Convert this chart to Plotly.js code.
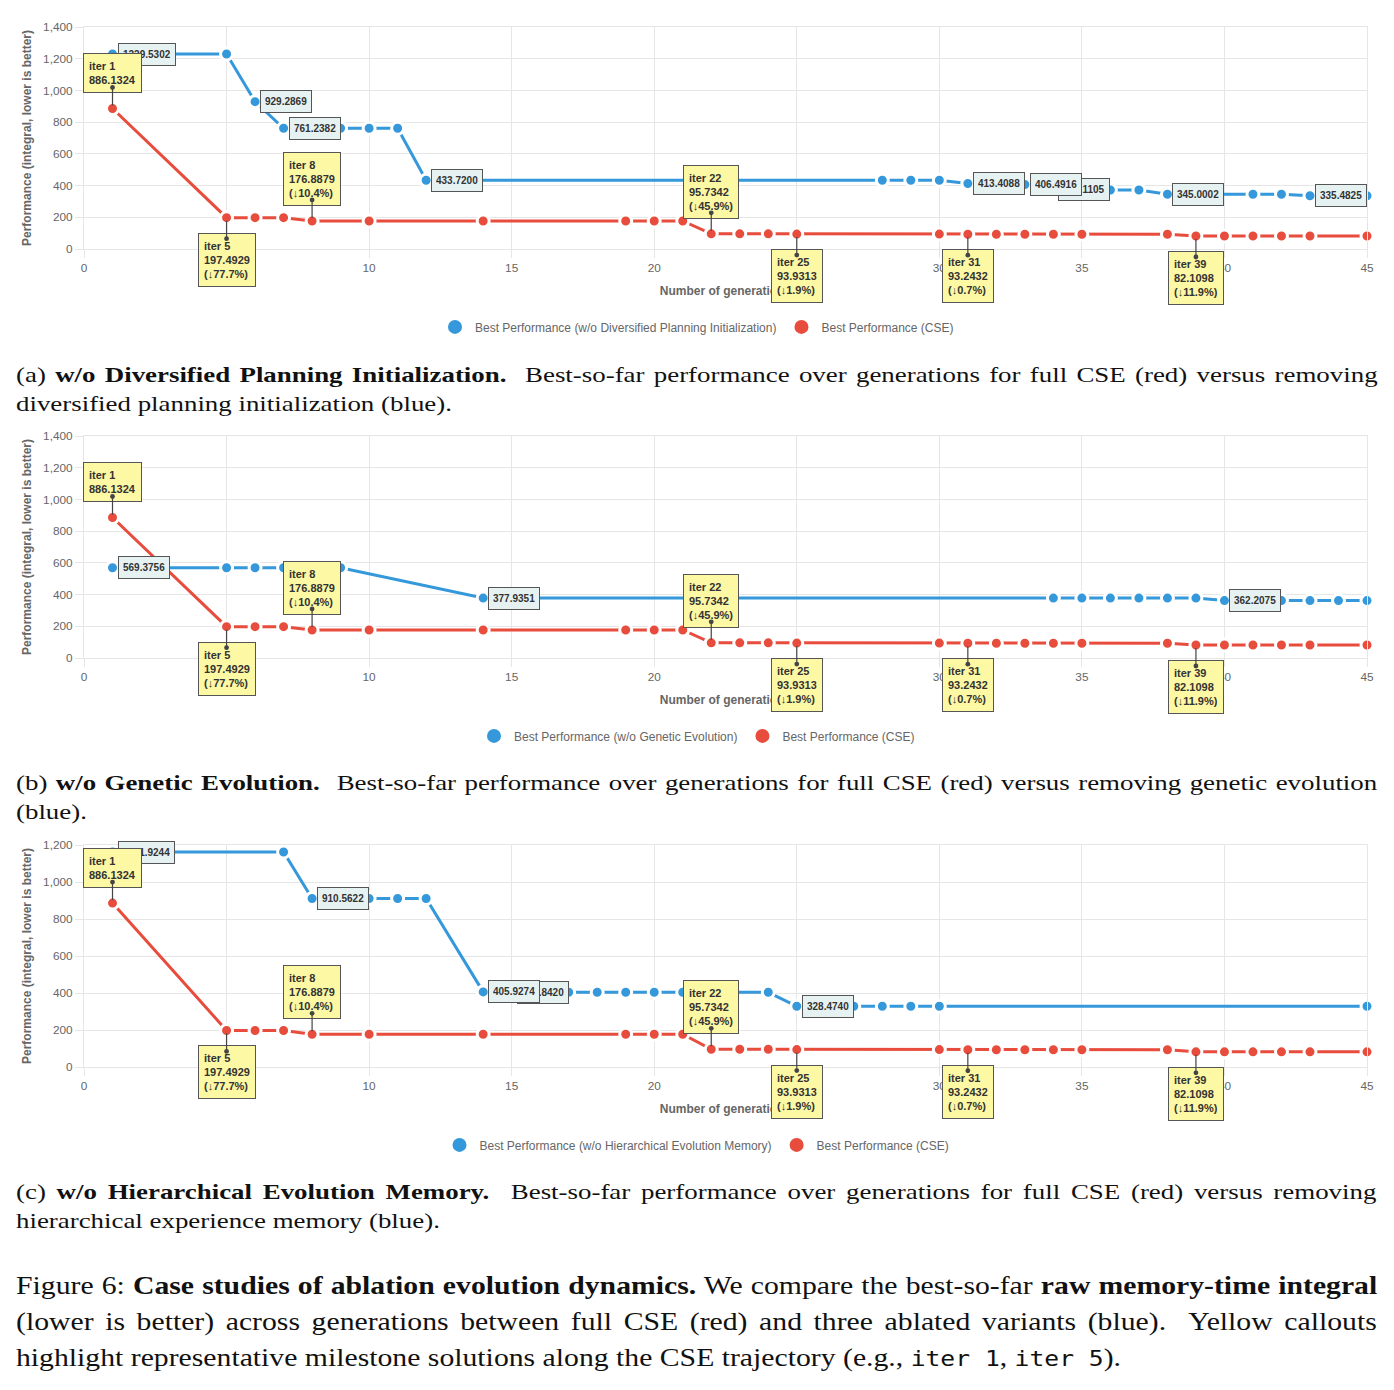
<!DOCTYPE html>
<html>
<head>
<meta charset="utf-8">
<script src="https://cdn.plot.ly/plotly-3.0.1.min.js"></script>
<style>
  html, body { margin: 0; padding: 0; background: #fff; }
  body { width: 1394px; height: 1390px; position: relative; overflow: hidden; }
  .chart { position: absolute; left: 0; width: 1394px; height: 345px; }
  .cap { position: absolute; left: 16px; font-family: "Liberation Serif", "Times New Roman", serif; color: #111; z-index: 5; }
  .cap .ln { display: block; white-space: nowrap; transform-origin: 0 0; }
  .cap .j { width: max-content; }
  .sub { font-size: 21px; line-height: 29px; }
  .sub .ln { transform: scaleX(1.28); }
  .fig { font-size: 24.5px; line-height: 36px; }
  .fig .ln { transform: scaleX(1.213); }
  .mono { font-family: "DejaVu Sans Mono", "Liberation Mono", monospace; font-size: 0.83em; }
</style>
</head>
<body>
<div id="chartA" class="chart" style="top:0px"></div>
<div id="chartB" class="chart" style="top:409px"></div>
<div id="chartC" class="chart" style="top:818px"></div>

<div class="cap sub" style="top:361px">
  <div class="ln j">(a) <b>w/o Diversified Planning Initialization.</b>&nbsp; Best-so-far performance over generations for full CSE (red) versus removing</div>
  <div class="ln">diversified planning initialization (blue).</div>
</div>
<div class="cap sub" style="top:769px">
  <div class="ln j">(b) <b>w/o Genetic Evolution.</b>&nbsp; Best-so-far performance over generations for full CSE (red) versus removing genetic evolution</div>
  <div class="ln">(blue).</div>
</div>
<div class="cap sub" style="top:1178px">
  <div class="ln j">(c) <b>w/o Hierarchical Evolution Memory.</b>&nbsp; Best-so-far performance over generations for full CSE (red) versus removing</div>
  <div class="ln">hierarchical experience memory (blue).</div>
</div>
<div class="cap fig" style="top:1268px">
  <div class="ln j">Figure 6: <b>Case studies of ablation evolution dynamics.</b> We compare the best-so-far <b>raw memory-time integral</b></div>
  <div class="ln j">(lower is better) across generations between full CSE (red) and three ablated variants (blue).&nbsp; Yellow callouts</div>
  <div class="ln">highlight representative milestone solutions along the CSE trajectory (e.g., <span class="mono">iter 1</span>, <span class="mono">iter 5</span>).</div>
</div>

<script>
// Full CSE best-so-far trajectory (shared by all three ablation panels)
const cseGen  = [1, 5, 6, 7, 8, 10, 14, 19, 20, 21, 22, 23, 24, 25, 30, 31, 32, 33, 34, 35, 38, 39, 40, 41, 42, 43, 45];
const csePerf = [886.1324, 197.4929, 197.4929, 197.4929, 176.8879, 176.8879, 176.8879, 176.8879, 176.8879, 176.8879,
                 95.7342, 95.7342, 95.7342, 93.9313, 93.9313, 93.2432, 93.2432, 93.2432, 93.2432, 93.2432, 93.2432,
                 82.1098, 82.1098, 82.1098, 82.1098, 82.1098, 82.1098];

// Milestone generations highlighted with callouts on the CSE curve
const milestoneGen = [1, 5, 8, 22, 25, 31, 39];

// (a) without diversified planning initialization
const noDpiGen  = [1, 5, 6, 7, 8, 9, 10, 11, 12, 28, 29, 30, 31, 32, 33, 34, 35, 36, 37, 38, 41, 42, 43, 45];
const noDpiPerf = [1229.5302, 1229.5302, 929.2869, 761.2382, 761.2382, 761.2382, 761.2382, 761.2382,
                   433.7200, 433.7200, 433.7200, 433.7200, 413.4088, 413.4088, 406.4916,
                   372.1105, 372.1105, 372.1105, 372.1105, 345.0002, 345.0002, 345.0002, 335.4825, 335.4825];

// (b) without genetic evolution
const noGeGen  = [1, 5, 6, 7, 8, 9, 14, 34, 35, 36, 37, 38, 39, 40, 41, 42, 43, 44, 45];
const noGePerf = [569.3756, 569.3756, 569.3756, 569.3756, 569.3756, 569.3756,
                  377.9351, 377.9351, 377.9351, 377.9351, 377.9351, 377.9351, 377.9351,
                  362.2075, 362.2075, 362.2075, 362.2075, 362.2075, 362.2075];

// (c) without hierarchical evolution memory
const noHemGen  = [1, 7, 8, 9, 10, 11, 12, 14, 15, 16, 17, 18, 19, 20, 21, 24, 25, 26, 27, 28, 29, 30, 45];
const noHemPerf = [1161.9244, 1161.9244, 910.5622, 910.5622, 910.5622, 910.5622, 910.5622, 405.9274,
                   403.8420, 403.8420, 403.8420, 403.8420, 403.8420, 403.8420, 403.8420, 403.8420,
                   328.4740, 328.4740, 328.4740, 328.4740, 328.4740, 328.4740, 328.4740];

const BLUE = '#3498db';
const RED = '#e74c3c';
const SANS = '"Liberation Sans", Arial, Helvetica, sans-serif';
const GRID = '#e6e6e6';

// which side of the curve each milestone box sits on
const calloutAbove = [true, false, true, true, false, false, false];

function perfAt(gen) { return csePerf[cseGen.indexOf(gen)]; }

function calloutText(i) {
  const g = milestoneGen[i];
  const v = perfAt(g);
  let t = '<b>iter ' + g + '<br>' + v.toFixed(4);
  if (i > 0) {
    const prev = perfAt(milestoneGen[i - 1]);
    t += '<br>(\u2193' + ((prev - v) / prev * 100).toFixed(1) + '%)';
  }
  return t + '</b>';
}

function valueLabels(gen, perf) {
  const out = [];
  perf.forEach((v, i) => {
    if (i === 0 || v !== perf[i - 1]) {
      out.push({
        x: gen[i], y: v, xref: 'x', yref: 'y',
        text: '<b>' + v.toFixed(4) + '</b>',
        showarrow: false, xanchor: 'left', yanchor: 'middle', xshift: 5,
        bgcolor: '#e6f2f2', bordercolor: '#555', borderwidth: 1, borderpad: 4, height: 13,
        font: { family: SANS, size: 10, color: '#333' }
      });
    }
  });
  return out.reverse();
}

function calloutAnnotations() {
  const anns = [];
  milestoneGen.forEach((g, i) => {
    const v = perfAt(g);
    const up = calloutAbove[i];
    anns.push({
      x: g, y: v, xref: 'x', yref: 'y', text: calloutText(i),
      showarrow: false, xanchor: 'center', yanchor: up ? 'bottom' : 'top', yshift: up ? 15 : -15,
      align: 'left', valign: 'middle',
      bgcolor: '#fdf8a3', bordercolor: '#555', borderwidth: 1, borderpad: 5,
      height: i === 0 ? 28 : 42,
      font: { family: SANS, size: 11, color: '#333' }
    });
    anns.push({
      x: g, y: v, xref: 'x', yref: 'y', text: '',
      showarrow: true, ax: 0, ay: up ? -21 : 21,
      arrowcolor: '#444', arrowwidth: 1.2, arrowside: 'start', startarrowhead: 6, startarrowsize: 1,
      standoff: 3, borderpad: 0, borderwidth: 0
    });
  });
  return anns;
}

function seriesTrace(gen, perf, color) {
  return {
    x: gen, y: perf, type: 'scatter', mode: 'lines+markers',
    line: { color: color, width: 3 },
    marker: { size: 12, color: color, line: { color: '#fff', width: 3 } },
    cliponaxis: false, showlegend: false, hoverinfo: 'skip'
  };
}

function legendEntry(name, color) {
  return {
    x: [null], y: [null], type: 'scatter', mode: 'markers', name: name,
    marker: { size: 14, color: color }, showlegend: true, hoverinfo: 'skip'
  };
}

function drawPanel(id, gen, perf, variantName, ymax) {
  const data = [
    seriesTrace(cseGen, csePerf, RED),
    seriesTrace(gen, perf, BLUE),
    legendEntry('Best Performance (' + variantName + ')', BLUE),
    legendEntry('Best Performance (CSE)', RED)
  ];
  const axisCommon = {
    showgrid: true, gridcolor: GRID, gridwidth: 1,
    ticks: 'outside', ticklen: 8, tickcolor: GRID,
    showline: true, linecolor: GRID, mirror: true, zeroline: false,
    tickfont: { family: SANS, size: 11.8, color: '#666' },
    automargin: false, fixedrange: true
  };
  const layout = {
    width: 1394, height: 345,
    margin: { l: 84, r: 27, t: 27, b: 96, autoexpand: false },
    paper_bgcolor: 'rgba(0,0,0,0)', plot_bgcolor: '#fff',
    font: { family: SANS, color: '#666', size: 12 },
    xaxis: Object.assign({}, axisCommon, {
      range: [0, 45], tick0: 0, dtick: 5,
      title: { text: '<b>Number of generations</b>', standoff: 12, font: { family: SANS, size: 12, color: '#666' } }
    }),
    yaxis: Object.assign({}, axisCommon, {
      range: [0, ymax], tick0: 0, dtick: 200, tickformat: ',',
      title: { text: '<b>Performance (integral, lower is better)</b>', standoff: 8, font: { family: SANS, size: 12, color: '#666' } }
    }),
    showlegend: true,
    legend: {
      orientation: 'h', xref: 'container', x: 0.5, xanchor: 'center',
      y: -0.351, yanchor: 'middle', font: { family: SANS, size: 12, color: '#666' },
      bgcolor: 'rgba(0,0,0,0)'
    },
    annotations: valueLabels(gen, perf).concat(calloutAnnotations())
  };
  Plotly.newPlot(id, data, layout, { staticPlot: true, displayModeBar: false });
}

drawPanel('chartA', noDpiGen, noDpiPerf, 'w/o Diversified Planning Initialization', 1400);
drawPanel('chartB', noGeGen, noGePerf, 'w/o Genetic Evolution', 1400);
drawPanel('chartC', noHemGen, noHemPerf, 'w/o Hierarchical Evolution Memory', 1200);

// Full-width caption lines: spread the words so each line spans the text block
const TEXT_WIDTH = 1361;
function justifyCaptionLines() {
  document.querySelectorAll('.cap .j').forEach(el => {
    el.style.wordSpacing = '0px';
    const scale = parseFloat(getComputedStyle(el).transform.split('(')[1]) || 1;
    const natural = el.offsetWidth;
    const gaps = (el.textContent.trim().match(/[ \u00a0]/g) || []).length;
    if (gaps > 0) el.style.wordSpacing = ((TEXT_WIDTH / scale - natural) / gaps) + 'px';
  });
}
justifyCaptionLines();
if (document.fonts && document.fonts.ready) document.fonts.ready.then(justifyCaptionLines);
</script>
</body>
</html>
